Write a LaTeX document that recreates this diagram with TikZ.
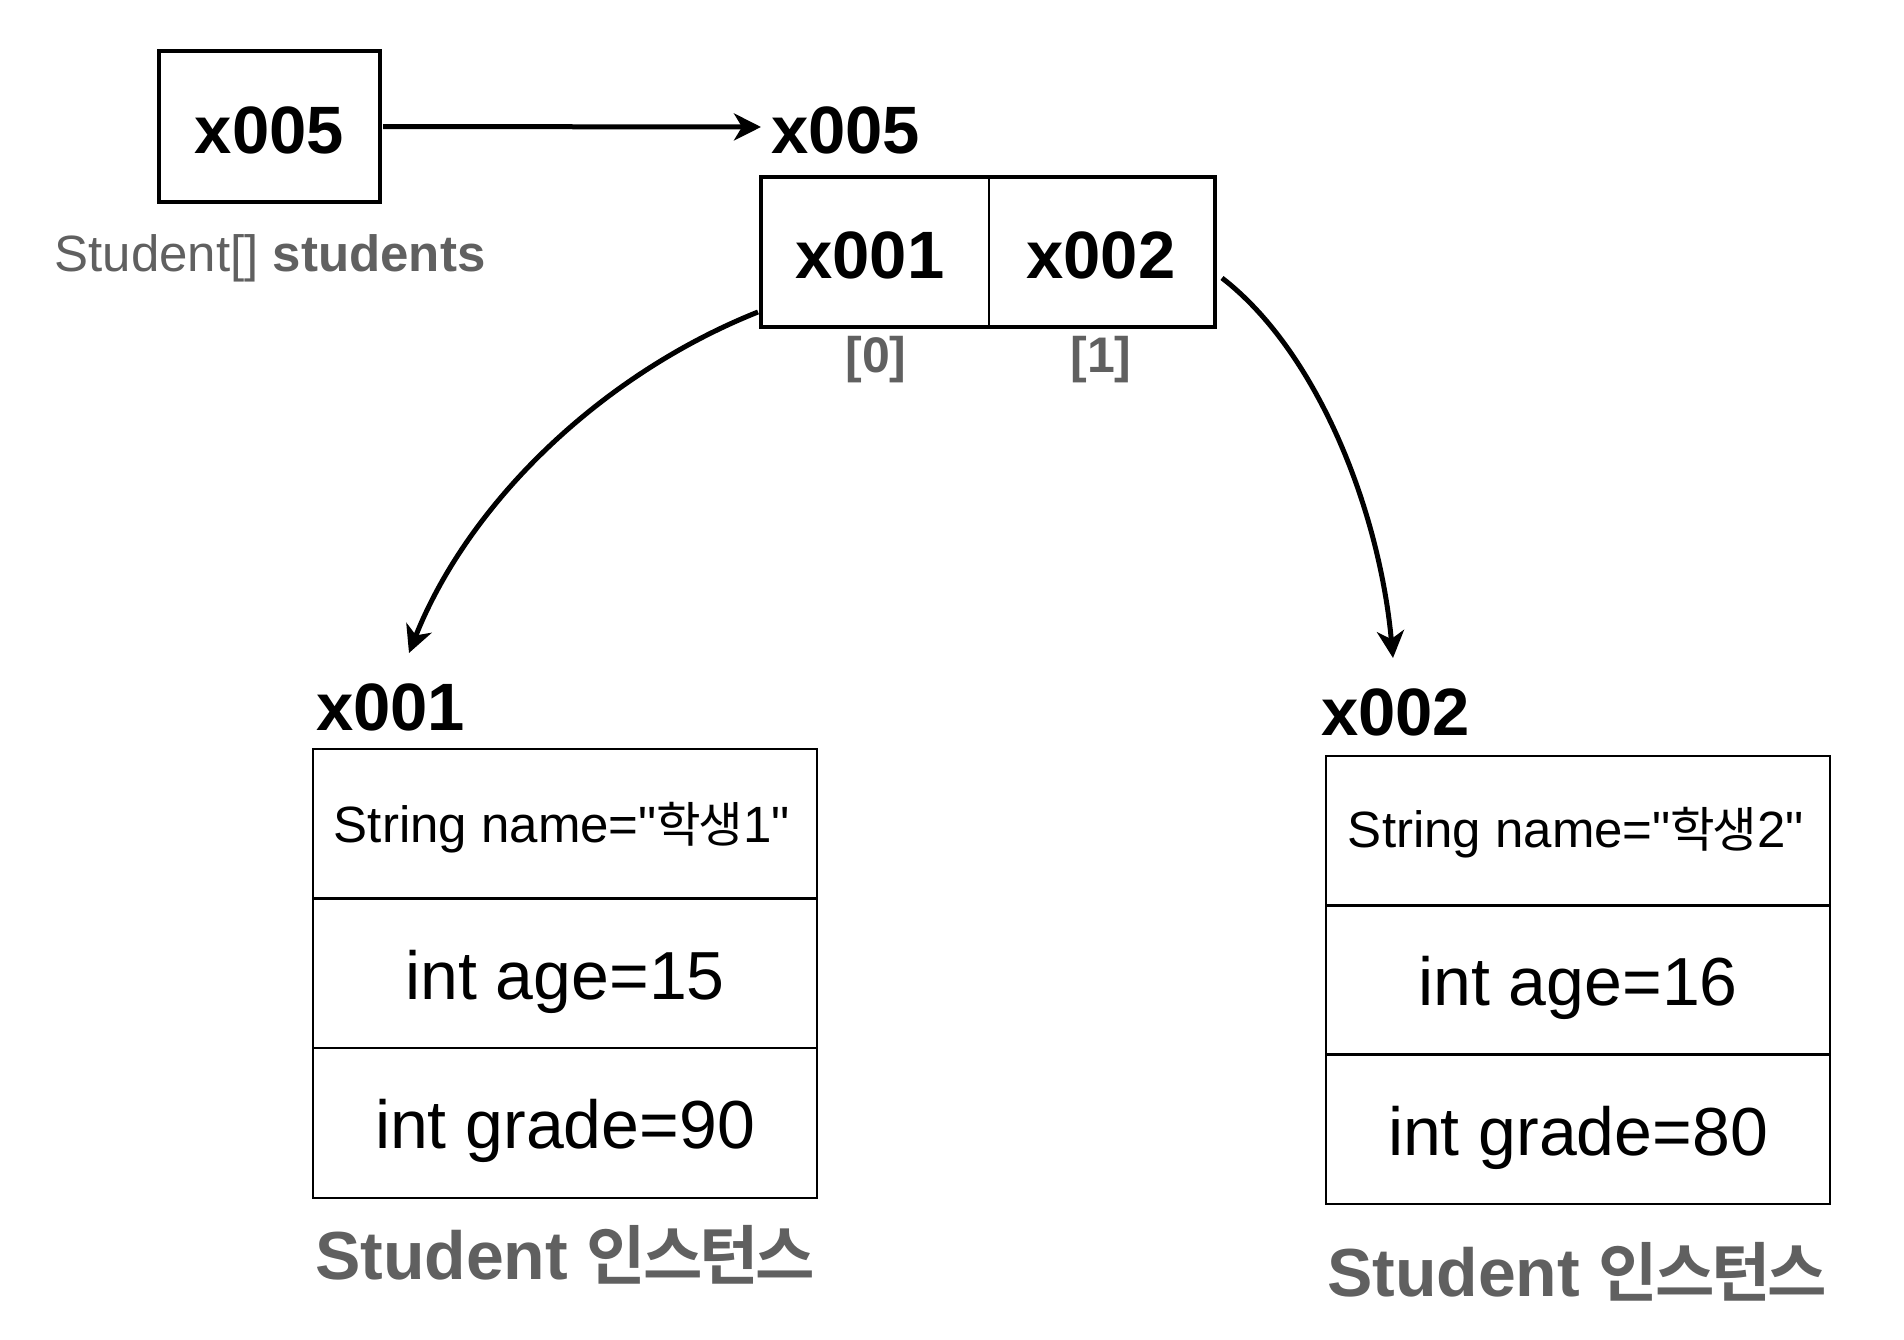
\documentclass[tikz,border=0pt]{standalone}
\usepackage{fontspec}
\setmainfont{Liberation Sans}[Ligatures=TeXOff]
\newfontfamily\krfont[Scale=0.95,LetterSpace=-5,BoldFont={Noto Sans CJK KR Bold}]{Noto Sans CJK KR}
\usetikzlibrary{arrows.meta}
\definecolor{labgray}{HTML}{606060}
\tikzset{
  every node/.style={inner sep=0pt, outer sep=0pt},
  ptrbox/.style={draw=black, line width=4pt, anchor=north west},
  rowbox/.style={draw=black, line width=2.5pt, anchor=north west, minimum width=504pt, minimum height=149.6pt},
  bigtxt/.style={font=\fontsize{67}{80}\selectfont\bfseries, text=black},
  fieldtxt/.style={font=\fontsize{68}{80}\selectfont, text=black},
  nametxt/.style={font=\fontsize{51}{60}\selectfont, text=black},
  graylab/.style={font=\fontsize{51}{60}\selectfont, text=labgray},
  idxtxt/.style={font=\fontsize{50}{60}\selectfont\bfseries, text=labgray},
  insttxt/.style={font=\fontsize{68}{80}\selectfont\bfseries, text=labgray},
  conn/.style={line width=5pt, -{Stealth[length=27pt, width=27pt, inset=8pt]}}
}
\begin{document}
\begin{tikzpicture}[x=1pt, y=-1pt]
\useasboundingbox (0,0) rectangle (1904,1340);

% pointer variable
\node[ptrbox, minimum width=221pt, minimum height=151pt] (ptr) at (159,51) {};
\node[bigtxt, anchor=base] (ptrtxt) at (269.5,154) {x005};
\node[graylab, anchor=base] (ptrlab) at (270,272) {Student[] \textbf{students}};

% array
\node[anchor=north west, minimum width=228pt, minimum height=150pt] (c0) at (761,177) {};
\node[anchor=north west, minimum width=226pt, minimum height=150pt] (c1) at (989,177) {};
\node[ptrbox, minimum width=454pt, minimum height=150pt] (arr) at (761,177) {};
\draw[line width=2.5pt] (c0.north east) -- (c0.south east);
\node[bigtxt, anchor=base] (c0t) at (870,279) {x001};
\node[bigtxt, anchor=base] (c1t) at (1101,279) {x002};
\node[bigtxt, anchor=base west] (arrlab) at (771,154) {x005};
\node[idxtxt, anchor=base] (i0) at (876,373) {[0]};
\node[idxtxt, anchor=base] (i1) at (1101,373) {[1]};

% student 1
\node[bigtxt, anchor=base west] (s1lab) at (316,730) {x001};
\node[rowbox] (s1a) at (313,749) {};
\node[rowbox] (s1b) at (s1a.south west) {};
\node[rowbox] (s1c) at (s1b.south west) {};
\node[nametxt, anchor=base] (s1at) at (562,842) {String name="{\krfont 학생}1"};
\node[fieldtxt, anchor=base] (s1bt) at (565,999) {int age=15};
\node[fieldtxt, anchor=base] (s1ct) at (565,1148) {int grade=90};
\node[insttxt, anchor=base] (s1inst) at (565,1279) {Student {\krfont\bfseries 인스턴스}};

% student 2
\node[bigtxt, anchor=base west] (s2lab) at (1321,735) {x002};
\node[rowbox, minimum height=149.3pt] (s2a) at (1326,756) {};
\node[rowbox, minimum height=149.3pt] (s2b) at (s2a.south west) {};
\node[rowbox, minimum height=149.3pt] (s2c) at (s2b.south west) {};
\node[nametxt, anchor=base] (s2at) at (1576,847) {String name="{\krfont 학생}2"};
\node[fieldtxt, anchor=base] (s2bt) at (1578,1005) {int age=16};
\node[fieldtxt, anchor=base] (s2ct) at (1578,1155) {int grade=80};
\node[insttxt, anchor=base] (s2inst) at (1577,1296) {Student {\krfont\bfseries 인스턴스}};

% connectors
\coordinate (tip0) at (761,127);
\coordinate (tip1) at (409,653);
\coordinate (tip2) at (1393,658);
\draw[conn, shorten <=3pt] (ptr.east) -- (tip0);
\draw[conn] ([xshift=-3pt,yshift=15pt]arr.south west) .. controls (600,375) and (468,504) .. (tip1);
\draw[conn] ([xshift=7pt,yshift=49pt]arr.south east) .. controls (1316.8,351.2) and (1379.2,508.6) .. (tip2);
\end{tikzpicture}
\end{document}
